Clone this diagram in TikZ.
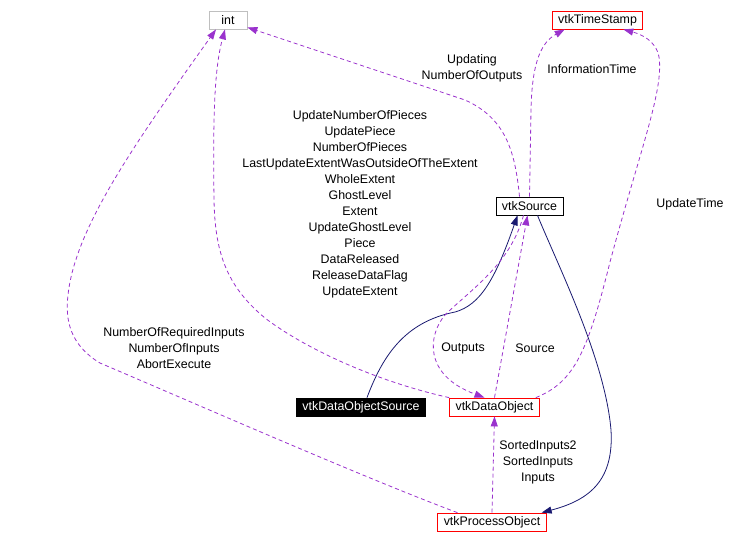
\documentclass[tikz,border=0pt]{standalone}
\usepackage{fontspec}
\setmainfont{Liberation Sans}
\usetikzlibrary{arrows.meta}
\definecolor{edgepurple}{HTML}{9A32CD}
\definecolor{edgenavy}{HTML}{191970}
\definecolor{boxgray}{HTML}{BFBFBF}

\begin{document}
\begin{tikzpicture}[x=1pt,y=-1pt,
  cls/.style={draw,line width=0.8pt,minimum height=18pt,inner xsep=6pt,inner ysep=0pt,font=\fontsize{12.4}{16}\selectfont},
  lbl/.style={align=center,inner sep=0pt,font=\fontsize{12.4}{16}\selectfont},
  dep/.style={color=edgepurple,line width=0.8pt,dash pattern=on 4pt off 3pt,-{Triangle[length=10pt,width=7pt]}},
  inh/.style={color=edgenavy,line width=0.8pt,-{Triangle[length=10pt,width=7pt]}}]
  \useasboundingbox (0,0) rectangle (752,544);
  \node[cls,draw=boxgray,minimum width=38pt] (int) at (228,20) {int};
  \node[cls,draw=red] (ts) at (597.5,20) {vtkTimeStamp};
  \node[cls] (src) at (529.5,206) {vtkSource};
  \node[cls,fill=black,text=white] (dos) at (361,407) {vtkDataObjectSource};
  \node[cls,draw=red] (do) at (494.5,407) {vtkDataObject};
  \node[cls,draw=red] (po) at (492,522) {vtkProcessObject};
  \draw[dep] ([xshift=-10pt]src.north) .. controls (515,150) and (505,118) .. (465,100) -- ([yshift=2pt]int.south east);
  \draw[dep] (src.north) -- (531,110) .. controls (532,60) and (542,42) .. ([xshift=13pt]ts.south west);
  \draw[dep] ([xshift=-4pt]do.north east) .. controls (575,382) and (588,350) .. (610,262)
     .. controls (640,150) and (664,90) .. (659,57) .. controls (656,40) and (640,34) .. ([xshift=-20pt]ts.south east);
  \draw[dep] (do.north west) .. controls (370,380) and (300,345) .. (265,318) .. controls (225,285) and (215,250) .. (214,200)
     .. controls (213,120) and (214,70) .. ([xshift=-3pt]int.south);
  \draw[dep] ([xshift=20pt]po.north west) .. controls (370,480) and (210,410) .. (100,363) .. controls (70,345) and (65,320) .. (68,295)
     .. controls (75,230) and (130,150) .. ([xshift=-12pt]int.south);
  \draw[inh] ([xshift=6pt]dos.north) .. controls (383,355) and (405,322) .. (455,312) .. controls (480,305) and (495,280) .. ([xshift=-12pt]src.south);
  \draw[dep] (do.north) -- ([xshift=-2pt]src.south);
  \draw[dep] ([xshift=-6pt]src.south) .. controls (510,265) and (470,290) .. (445,315) .. controls (428,335) and (423,375) .. ([xshift=-10pt]do.north);
  \draw[inh] ([xshift=8pt]src.south) .. controls (560,270) and (605,360) .. (611,430) .. controls (614,480) and (590,500) .. ([xshift=-5pt]po.north east);
  \draw[dep] (po.north) -- (do.south);
  \node[lbl] (lUpd) at (472,68) {Updating\\NumberOfOutputs};
  \node[lbl] (lInfo) at (592,69) {InformationTime};
  \node[lbl] (lUpdT) at (690,204) {UpdateTime};
  \node[lbl] (lExt) at (360,204) {UpdateNumberOfPieces\\UpdatePiece\\NumberOfPieces\\LastUpdateExtentWasOutsideOfTheExtent\\WholeExtent\\GhostLevel\\Extent\\UpdateGhostLevel\\Piece\\DataReleased\\ReleaseDataFlag\\UpdateExtent};
  \node[lbl] (lReq) at (174,348) {NumberOfRequiredInputs\\NumberOfInputs\\AbortExecute};
  \node[lbl] (lOut) at (463,348) {Outputs};
  \node[lbl] (lSrc) at (535,348) {Source};
  \node[lbl] (lSort) at (538,462) {SortedInputs2\\SortedInputs\\Inputs};
\end{tikzpicture}
\end{document}
